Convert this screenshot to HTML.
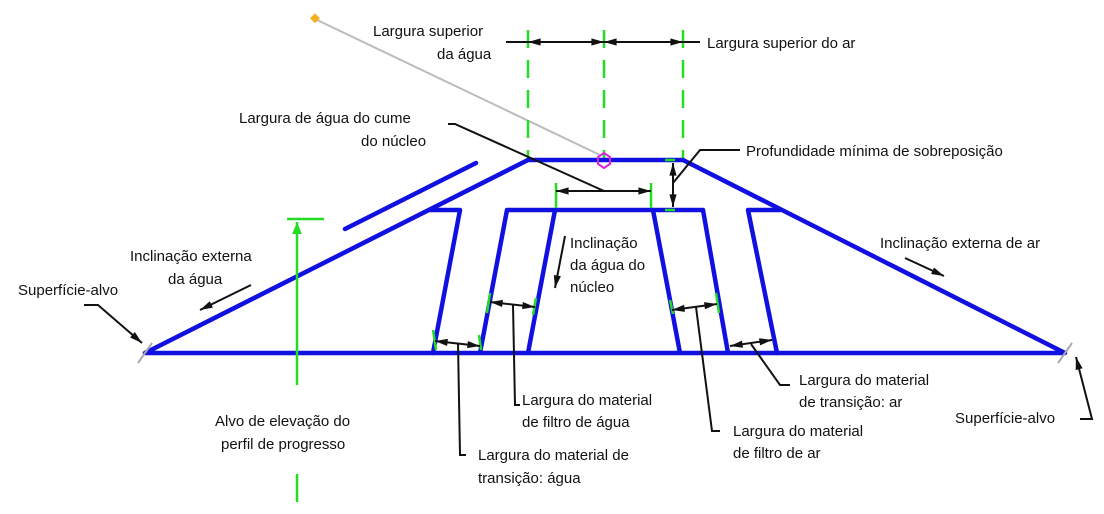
<!DOCTYPE html>
<html><head><meta charset="utf-8"><style>
html,body{margin:0;padding:0;background:#fff}
svg{display:block}
text{font-family:"Liberation Sans",sans-serif;font-size:15px;fill:#111}
</style></head><body>
<svg width="1104" height="514" viewBox="0 0 1104 514" xmlns="http://www.w3.org/2000/svg">
<defs>
<marker id="a" viewBox="0 0 14 10" refX="14" refY="5" markerWidth="14" markerHeight="9" orient="auto-start-reverse" markerUnits="userSpaceOnUse"><path d="M0,1 L14,5 L0,9 z" fill="#111"/></marker>
<marker id="g" viewBox="0 0 10 10" refX="10" refY="5" markerWidth="12" markerHeight="12" orient="auto" markerUnits="userSpaceOnUse"><path d="M0,1 L10,5 L0,9 z" fill="#22dd22"/></marker>
</defs>
<line x1="315" y1="19" x2="600" y2="155" stroke="#bbb" stroke-width="2"/>
<rect x="311" y="15" width="7" height="7" fill="#f0b020" transform="rotate(45 315 19)"/>
<g stroke="#22dd22" stroke-width="2.5" stroke-dasharray="18 12">
<line x1="528" y1="30" x2="528" y2="160"/>
<line x1="604" y1="30" x2="604" y2="160"/>
<line x1="683" y1="30" x2="683" y2="160"/>
</g>
<g stroke="#111" stroke-width="2">
<line x1="506" y1="42" x2="528" y2="42"/>
<line x1="528" y1="42" x2="604" y2="42" marker-start="url(#a)" marker-end="url(#a)"/>
<line x1="604" y1="42" x2="683" y2="42" marker-start="url(#a)" marker-end="url(#a)"/>
<line x1="683" y1="42" x2="700" y2="42"/>
</g>
<g stroke="#1010e0" stroke-width="4.5" fill="none" stroke-linejoin="round" stroke-linecap="round">
<polyline points="145,353 528,160 683,160 1065,353 145,353"/>
<line x1="345" y1="229" x2="476" y2="163"/>
<polyline points="430,210 460,210 433,353"/>
<polyline points="480,353 507,210 703,210 728,353"/>
<line x1="555" y1="210" x2="528" y2="353"/>
<line x1="653" y1="210" x2="680" y2="353"/>
<polyline points="780,210 748,210 777,353"/>
</g>
<polygon points="604,153 610,157 610,164 604,168 598,164 598,157" fill="none" stroke="#e020e0" stroke-width="2"/>
<line x1="138" y1="363" x2="152" y2="343" stroke="#aaa" stroke-width="2"/>
<line x1="1058" y1="363" x2="1072" y2="343" stroke="#aaa" stroke-width="2"/>
<g stroke="#22dd22" stroke-width="2.5">
<line x1="556" y1="183" x2="556" y2="208"/>
<line x1="651" y1="183" x2="651" y2="208"/>
<line x1="665" y1="160" x2="675" y2="160"/>
<line x1="665" y1="210" x2="675" y2="210"/>
<line x1="433" y1="330" x2="436" y2="350"/><line x1="479" y1="335" x2="481" y2="350"/>
<line x1="490" y1="293" x2="487" y2="313"/><line x1="536" y1="298" x2="533" y2="315"/>
<line x1="670" y1="300" x2="673" y2="314"/><line x1="716" y1="293" x2="719" y2="313"/>
</g>
<g stroke="#111" stroke-width="2" fill="none">
<line x1="556" y1="191" x2="651" y2="191" marker-start="url(#a)" marker-end="url(#a)"/>
<polyline points="448,124 455,124 604,191"/>
<line x1="673" y1="163" x2="673" y2="207" marker-start="url(#a)" marker-end="url(#a)"/>
<polyline points="673,183 700,150 740,150"/>
<line x1="435" y1="341" x2="480" y2="346" marker-start="url(#a)" marker-end="url(#a)"/>
<polyline points="458,343 460,455 466,455"/>
<line x1="490" y1="302" x2="535" y2="307" marker-start="url(#a)" marker-end="url(#a)"/>
<polyline points="513,305 515,405 520,405"/>
<line x1="672" y1="310" x2="717" y2="304" marker-start="url(#a)" marker-end="url(#a)"/>
<polyline points="696,307 712,431 720,431"/>
<line x1="730" y1="346" x2="772" y2="340" marker-start="url(#a)" marker-end="url(#a)"/>
<polyline points="751,344 780,385 790,385"/>
<line x1="905" y1="258" x2="944" y2="276" marker-end="url(#a)"/>
<line x1="251" y1="285" x2="200" y2="310" marker-end="url(#a)"/>
<line x1="565" y1="236" x2="555" y2="288" marker-end="url(#a)"/>
<polyline points="84,305 98,305 142,343" marker-end="url(#a)"/>
<polyline points="1080,419 1092,419 1076,357" marker-end="url(#a)"/>
</g>
<g stroke="#22dd22" stroke-width="2.5">
<line x1="287" y1="219" x2="324" y2="219"/>
<line x1="297" y1="385" x2="297" y2="222" marker-end="url(#g)"/>
<line x1="297" y1="474" x2="297" y2="502"/>
</g>
<text x="373" y="36">Largura superior</text>
<text x="437" y="59">da água</text>
<text x="707" y="48">Largura superior do ar</text>
<text x="239" y="123">Largura de água do cume</text>
<text x="361" y="146">do núcleo</text>
<text x="746" y="156">Profundidade mínima de sobreposição</text>
<text x="880" y="248">Inclinação externa de ar</text>
<text x="130" y="261">Inclinação externa</text>
<text x="168" y="284">da água</text>
<text x="18" y="295">Superfície-alvo</text>
<text x="570" y="248">Inclinação</text>
<text x="570" y="270">da água do</text>
<text x="570" y="292">núcleo</text>
<text x="799" y="385">Largura do material</text>
<text x="799" y="407">de transição: ar</text>
<text x="955" y="423">Superfície-alvo</text>
<text x="522" y="405">Largura do material</text>
<text x="522" y="427">de filtro de água</text>
<text x="733" y="436">Largura do material</text>
<text x="733" y="458">de filtro de ar</text>
<text x="215" y="426">Alvo de elevação do</text>
<text x="221" y="449">perfil de progresso</text>
<text x="478" y="460">Largura do material de</text>
<text x="478" y="483">transição: água</text>
</svg>
</body></html>
